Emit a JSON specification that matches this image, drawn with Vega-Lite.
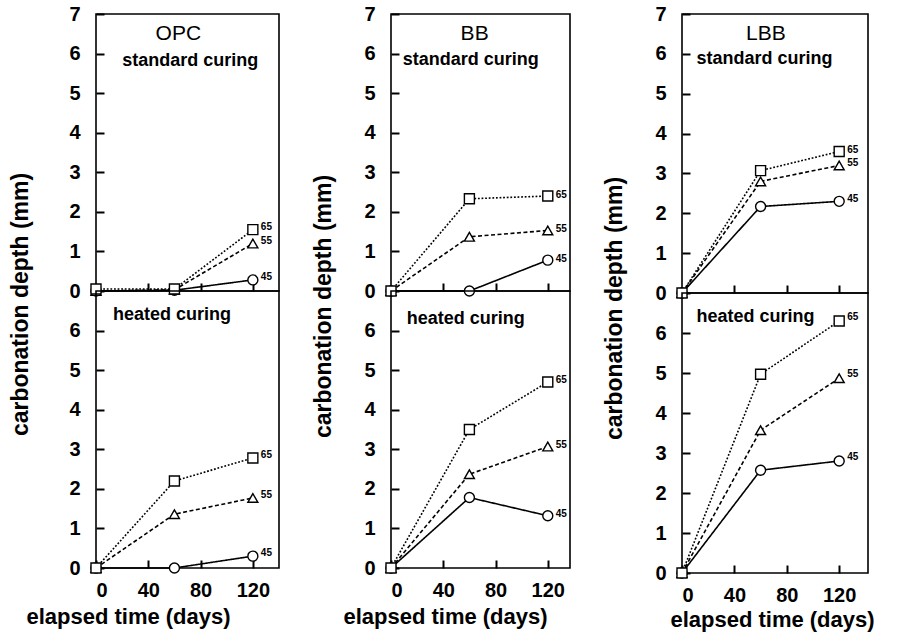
{
  "$schema": "https://vega.github.io/schema/vega-lite/v6.json",
  "background": "white",
  "padding": {"left": 9, "top": 3, "right": 2, "bottom": 2},
  "datasets": {
    "d": [
      {"cement": "OPC", "curing": "standard", "wc": "45", "days": 0, "depth": 0},
      {"cement": "OPC", "curing": "standard", "wc": "45", "days": 60, "depth": 0.02},
      {"cement": "OPC", "curing": "standard", "wc": "45", "days": 120, "depth": 0.28},
      {"cement": "OPC", "curing": "standard", "wc": "55", "days": 0, "depth": 0},
      {"cement": "OPC", "curing": "standard", "wc": "55", "days": 60, "depth": 0.03},
      {"cement": "OPC", "curing": "standard", "wc": "55", "days": 120, "depth": 1.2},
      {"cement": "OPC", "curing": "standard", "wc": "65", "days": 0, "depth": 0.05},
      {"cement": "OPC", "curing": "standard", "wc": "65", "days": 60, "depth": 0.05},
      {"cement": "OPC", "curing": "standard", "wc": "65", "days": 120, "depth": 1.55},
      {"cement": "OPC", "curing": "heated", "wc": "45", "days": 0, "depth": 0},
      {"cement": "OPC", "curing": "heated", "wc": "45", "days": 60, "depth": 0},
      {"cement": "OPC", "curing": "heated", "wc": "45", "days": 120, "depth": 0.3},
      {"cement": "OPC", "curing": "heated", "wc": "55", "days": 0, "depth": 0},
      {"cement": "OPC", "curing": "heated", "wc": "55", "days": 60, "depth": 1.36},
      {"cement": "OPC", "curing": "heated", "wc": "55", "days": 120, "depth": 1.77},
      {"cement": "OPC", "curing": "heated", "wc": "65", "days": 0, "depth": 0},
      {"cement": "OPC", "curing": "heated", "wc": "65", "days": 60, "depth": 2.2},
      {"cement": "OPC", "curing": "heated", "wc": "65", "days": 120, "depth": 2.78},
      {"cement": "BB", "curing": "standard", "wc": "45", "days": 0, "depth": 0},
      {"cement": "BB", "curing": "standard", "wc": "45", "days": 60, "depth": 0},
      {"cement": "BB", "curing": "standard", "wc": "45", "days": 120, "depth": 0.78},
      {"cement": "BB", "curing": "standard", "wc": "55", "days": 0, "depth": 0},
      {"cement": "BB", "curing": "standard", "wc": "55", "days": 60, "depth": 1.37},
      {"cement": "BB", "curing": "standard", "wc": "55", "days": 120, "depth": 1.53},
      {"cement": "BB", "curing": "standard", "wc": "65", "days": 0, "depth": 0},
      {"cement": "BB", "curing": "standard", "wc": "65", "days": 60, "depth": 2.33},
      {"cement": "BB", "curing": "standard", "wc": "65", "days": 120, "depth": 2.4},
      {"cement": "BB", "curing": "heated", "wc": "45", "days": 0, "depth": 0},
      {"cement": "BB", "curing": "heated", "wc": "45", "days": 60, "depth": 1.78},
      {"cement": "BB", "curing": "heated", "wc": "45", "days": 120, "depth": 1.32},
      {"cement": "BB", "curing": "heated", "wc": "55", "days": 0, "depth": 0},
      {"cement": "BB", "curing": "heated", "wc": "55", "days": 60, "depth": 2.37},
      {"cement": "BB", "curing": "heated", "wc": "55", "days": 120, "depth": 3.07},
      {"cement": "BB", "curing": "heated", "wc": "65", "days": 0, "depth": 0},
      {"cement": "BB", "curing": "heated", "wc": "65", "days": 60, "depth": 3.5},
      {"cement": "BB", "curing": "heated", "wc": "65", "days": 120, "depth": 4.7},
      {"cement": "LBB", "curing": "standard", "wc": "45", "days": 0, "depth": 0},
      {"cement": "LBB", "curing": "standard", "wc": "45", "days": 60, "depth": 2.17},
      {"cement": "LBB", "curing": "standard", "wc": "45", "days": 120, "depth": 2.3},
      {"cement": "LBB", "curing": "standard", "wc": "55", "days": 0, "depth": 0},
      {"cement": "LBB", "curing": "standard", "wc": "55", "days": 60, "depth": 2.8},
      {"cement": "LBB", "curing": "standard", "wc": "55", "days": 120, "depth": 3.2},
      {"cement": "LBB", "curing": "standard", "wc": "65", "days": 0, "depth": 0},
      {"cement": "LBB", "curing": "standard", "wc": "65", "days": 60, "depth": 3.07},
      {"cement": "LBB", "curing": "standard", "wc": "65", "days": 120, "depth": 3.55},
      {"cement": "LBB", "curing": "heated", "wc": "45", "days": 0, "depth": 0},
      {"cement": "LBB", "curing": "heated", "wc": "45", "days": 60, "depth": 2.57},
      {"cement": "LBB", "curing": "heated", "wc": "45", "days": 120, "depth": 2.8},
      {"cement": "LBB", "curing": "heated", "wc": "55", "days": 0, "depth": 0},
      {"cement": "LBB", "curing": "heated", "wc": "55", "days": 60, "depth": 3.57},
      {"cement": "LBB", "curing": "heated", "wc": "55", "days": 120, "depth": 4.87},
      {"cement": "LBB", "curing": "heated", "wc": "65", "days": 0, "depth": 0},
      {"cement": "LBB", "curing": "heated", "wc": "65", "days": 60, "depth": 4.97},
      {"cement": "LBB", "curing": "heated", "wc": "65", "days": 120, "depth": 6.3}
    ]
  },
  "config": {
    "font": "Liberation Sans",
    "view": {"stroke": "black", "strokeWidth": 1.6},
    "axis": {"labelFont": "Liberation Sans", "labelFontWeight": "bold", "labelFontSize": 20, "labelColor": "black", "labelOverlap": false, "labelBound": false, "ticks": true, "tickColor": "black", "tickSize": -8, "tickWidth": 2, "domain": false, "grid": false, "zindex": 1, "titleFont": "Liberation Sans", "titleFontSize": 23, "titleFontWeight": "bold", "titleColor": "black"}
  },
  "hconcat": [
    {
      "vconcat": [
        {
          "width": 183, "height": 277,
          "layer": [
            {"data": {"name": "d"}, "transform": [{"filter": "datum.cement == 'OPC' && datum.curing == 'standard'"}],
             "encoding": {
               "x": {"field": "days", "type": "quantitative", "scale": {"domain": [0, 140], "nice": false}, "axis": {"values": [40, 80, 120], "labels": false, "title": null}},
               "y": {"field": "depth", "type": "quantitative", "scale": {"domain": [0, 7], "nice": false}, "axis": {"values": [0, 1, 2, 3, 4, 5, 6, 7], "labelOverlap": false, "labelPadding": 24, "title": "carbonation depth (mm)", "titleY": 290, "titlePadding": 36}}
             },
             "layer": [
               {"mark": {"type": "line", "color": "black", "strokeWidth": 1.6},
                "encoding": {"detail": {"field": "wc"}, "strokeDash": {"field": "wc", "type": "nominal", "scale": {"domain": ["45", "55", "65"], "range": [[1, 0], [4, 2.5], [1.8, 1.8]]}, "legend": null}}},
               {"mark": {"type": "point", "filled": true, "fill": "white", "stroke": "black", "strokeWidth": 1.4, "size": 100, "opacity": 1},
                "encoding": {"shape": {"field": "wc", "type": "nominal", "scale": {"domain": ["45", "55", "65"], "range": ["circle", "triangle-up", "square"]}, "legend": null}}},
               {"transform": [{"filter": "datum.days == 120"}],
                "mark": {"type": "text", "align": "left", "dx": 8, "dy": -3, "fontSize": 10, "fontWeight": "bold", "color": "black"},
                "encoding": {"text": {"field": "wc"}}}
             ]},
            {"data": {"values": [{"label": "standard curing"}]},
             "mark": {"type": "text", "align": "left", "baseline": "middle", "fontSize": 18, "fontWeight": "bold", "color": "black"},
             "encoding": {
               "x": {"datum": 20, "type": "quantitative", "scale": {"domain": [0, 140], "nice": false}, "axis": {"values": [40, 80, 120], "labels": false, "title": null}},
               "y": {"datum": 5.82, "type": "quantitative", "scale": {"domain": [0, 7], "nice": false}, "axis": {"values": [0, 1, 2, 3, 4, 5, 6, 7], "labelOverlap": false, "labelPadding": 24, "title": "carbonation depth (mm)", "titleY": 290, "titlePadding": 36}},
               "text": {"field": "label"}
             }},
            {"data": {"values": [{"label": "OPC"}]},
             "mark": {"type": "text", "align": "center", "baseline": "middle", "fontSize": 21, "color": "black"},
             "encoding": {
               "x": {"datum": 63, "type": "quantitative", "scale": {"domain": [0, 140], "nice": false}, "axis": {"values": [40, 80, 120], "labels": false, "title": null}},
               "y": {"datum": 6.5, "type": "quantitative", "scale": {"domain": [0, 7], "nice": false}, "axis": {"values": [0, 1, 2, 3, 4, 5, 6, 7], "labelOverlap": false, "labelPadding": 24, "title": "carbonation depth (mm)", "titleY": 290, "titlePadding": 36}},
               "text": {"field": "label"}
             }}
          ]
        },
        {
          "width": 183, "height": 277,
          "layer": [
            {"data": {"name": "d"}, "transform": [{"filter": "datum.cement == 'OPC' && datum.curing == 'heated'"}],
             "encoding": {
               "x": {"field": "days", "type": "quantitative", "scale": {"domain": [0, 140], "nice": false}, "axis": {"values": [0, 40, 80, 120], "labelPadding": 20, "title": "elapsed time  (days)", "titlePadding": 6, "titleX": 32, "titleFontSize": 22}},
               "y": {"field": "depth", "type": "quantitative", "scale": {"domain": [0, 7], "nice": false}, "axis": {"values": [0, 1, 2, 3, 4, 5, 6], "labelOverlap": false, "labelPadding": 24, "title": null}}
             },
             "layer": [
               {"mark": {"type": "line", "color": "black", "strokeWidth": 1.6},
                "encoding": {"detail": {"field": "wc"}, "strokeDash": {"field": "wc", "type": "nominal", "scale": {"domain": ["45", "55", "65"], "range": [[1, 0], [4, 2.5], [1.8, 1.8]]}, "legend": null}}},
               {"mark": {"type": "point", "filled": true, "fill": "white", "stroke": "black", "strokeWidth": 1.4, "size": 100, "opacity": 1},
                "encoding": {"shape": {"field": "wc", "type": "nominal", "scale": {"domain": ["45", "55", "65"], "range": ["circle", "triangle-up", "square"]}, "legend": null}}},
               {"transform": [{"filter": "datum.days == 120"}],
                "mark": {"type": "text", "align": "left", "dx": 8, "dy": -3, "fontSize": 10, "fontWeight": "bold", "color": "black"},
                "encoding": {"text": {"field": "wc"}}}
             ]},
            {"data": {"values": [{"label": "heated curing"}]},
             "mark": {"type": "text", "align": "left", "baseline": "middle", "fontSize": 18, "fontWeight": "bold", "color": "black"},
             "encoding": {
               "x": {"datum": 13, "type": "quantitative", "scale": {"domain": [0, 140], "nice": false}, "axis": {"values": [0, 40, 80, 120], "labelPadding": 20, "title": "elapsed time  (days)", "titlePadding": 6, "titleX": 32, "titleFontSize": 22}},
               "y": {"datum": 6.4, "type": "quantitative", "scale": {"domain": [0, 7], "nice": false}, "axis": {"values": [0, 1, 2, 3, 4, 5, 6], "labelOverlap": false, "labelPadding": 24, "title": null}},
               "text": {"field": "label"}
             }}
          ]
        }
      ],
      "spacing": 0,
      "bounds": "flush"
    },
    {
      "vconcat": [
        {
          "width": 179, "height": 277,
          "layer": [
            {"data": {"name": "d"}, "transform": [{"filter": "datum.cement == 'BB' && datum.curing == 'standard'"}],
             "encoding": {
               "x": {"field": "days", "type": "quantitative", "scale": {"domain": [0, 137], "nice": false}, "axis": {"values": [40, 80, 120], "labels": false, "title": null}},
               "y": {"field": "depth", "type": "quantitative", "scale": {"domain": [0, 7], "nice": false}, "axis": {"values": [0, 1, 2, 3, 4, 5, 6, 7], "labelOverlap": false, "labelPadding": 24, "title": "carbonation depth (mm)", "titleY": 292, "titlePadding": 28}}
             },
             "layer": [
               {"mark": {"type": "line", "color": "black", "strokeWidth": 1.6},
                "encoding": {"detail": {"field": "wc"}, "strokeDash": {"field": "wc", "type": "nominal", "scale": {"domain": ["45", "55", "65"], "range": [[1, 0], [4, 2.5], [1.8, 1.8]]}, "legend": null}}},
               {"mark": {"type": "point", "filled": true, "fill": "white", "stroke": "black", "strokeWidth": 1.4, "size": 100, "opacity": 1},
                "encoding": {"shape": {"field": "wc", "type": "nominal", "scale": {"domain": ["45", "55", "65"], "range": ["circle", "triangle-up", "square"]}, "legend": null}}},
               {"transform": [{"filter": "datum.days == 120"}],
                "mark": {"type": "text", "align": "left", "dx": 8, "dy": -1, "fontSize": 10, "fontWeight": "bold", "color": "black"},
                "encoding": {"text": {"field": "wc"}}}
             ]},
            {"data": {"values": [{"label": "standard curing"}]},
             "mark": {"type": "text", "align": "left", "baseline": "middle", "fontSize": 18, "fontWeight": "bold", "color": "black"},
             "encoding": {
               "x": {"datum": 9, "type": "quantitative", "scale": {"domain": [0, 137], "nice": false}, "axis": {"values": [40, 80, 120], "labels": false, "title": null}},
               "y": {"datum": 5.85, "type": "quantitative", "scale": {"domain": [0, 7], "nice": false}, "axis": {"values": [0, 1, 2, 3, 4, 5, 6, 7], "labelOverlap": false, "labelPadding": 24, "title": "carbonation depth (mm)", "titleY": 292, "titlePadding": 28}},
               "text": {"field": "label"}
             }},
            {"data": {"values": [{"label": "BB"}]},
             "mark": {"type": "text", "align": "center", "baseline": "middle", "fontSize": 21, "color": "black"},
             "encoding": {
               "x": {"datum": 64, "type": "quantitative", "scale": {"domain": [0, 137], "nice": false}, "axis": {"values": [40, 80, 120], "labels": false, "title": null}},
               "y": {"datum": 6.5, "type": "quantitative", "scale": {"domain": [0, 7], "nice": false}, "axis": {"values": [0, 1, 2, 3, 4, 5, 6, 7], "labelOverlap": false, "labelPadding": 24, "title": "carbonation depth (mm)", "titleY": 292, "titlePadding": 28}},
               "text": {"field": "label"}
             }}
          ]
        },
        {
          "width": 179, "height": 277,
          "layer": [
            {"data": {"name": "d"}, "transform": [{"filter": "datum.cement == 'BB' && datum.curing == 'heated'"}],
             "encoding": {
               "x": {"field": "days", "type": "quantitative", "scale": {"domain": [0, 137], "nice": false}, "axis": {"values": [0, 40, 80, 120], "labelPadding": 20, "title": "elapsed time  (days)", "titlePadding": 6, "titleX": 54, "titleFontSize": 22}},
               "y": {"field": "depth", "type": "quantitative", "scale": {"domain": [0, 7], "nice": false}, "axis": {"values": [0, 1, 2, 3, 4, 5, 6], "labelOverlap": false, "labelPadding": 24, "title": null}}
             },
             "layer": [
               {"mark": {"type": "line", "color": "black", "strokeWidth": 1.6},
                "encoding": {"detail": {"field": "wc"}, "strokeDash": {"field": "wc", "type": "nominal", "scale": {"domain": ["45", "55", "65"], "range": [[1, 0], [4, 2.5], [1.8, 1.8]]}, "legend": null}}},
               {"mark": {"type": "point", "filled": true, "fill": "white", "stroke": "black", "strokeWidth": 1.4, "size": 100, "opacity": 1},
                "encoding": {"shape": {"field": "wc", "type": "nominal", "scale": {"domain": ["45", "55", "65"], "range": ["circle", "triangle-up", "square"]}, "legend": null}}},
               {"transform": [{"filter": "datum.days == 120"}],
                "mark": {"type": "text", "align": "left", "dx": 8, "dy": -2, "fontSize": 10, "fontWeight": "bold", "color": "black"},
                "encoding": {"text": {"field": "wc"}}}
             ]},
            {"data": {"values": [{"label": "heated curing"}]},
             "mark": {"type": "text", "align": "left", "baseline": "middle", "fontSize": 18, "fontWeight": "bold", "color": "black"},
             "encoding": {
               "x": {"datum": 12, "type": "quantitative", "scale": {"domain": [0, 137], "nice": false}, "axis": {"values": [0, 40, 80, 120], "labelPadding": 20, "title": "elapsed time  (days)", "titlePadding": 6, "titleX": 54, "titleFontSize": 22}},
               "y": {"datum": 6.3, "type": "quantitative", "scale": {"domain": [0, 7], "nice": false}, "axis": {"values": [0, 1, 2, 3, 4, 5, 6], "labelOverlap": false, "labelPadding": 24, "title": null}},
               "text": {"field": "label"}
             }}
          ]
        }
      ],
      "spacing": 0,
      "bounds": "flush"
    },
    {
      "vconcat": [
        {
          "width": 186, "height": 279,
          "layer": [
            {"data": {"name": "d"}, "transform": [{"filter": "datum.cement == 'LBB' && datum.curing == 'standard'"}],
             "encoding": {
               "x": {"field": "days", "type": "quantitative", "scale": {"domain": [0, 142], "nice": false}, "axis": {"values": [40, 80, 120], "labels": false, "title": null}},
               "y": {"field": "depth", "type": "quantitative", "scale": {"domain": [0, 7], "nice": false}, "axis": {"values": [0, 1, 2, 3, 4, 5, 6, 7], "labelOverlap": false, "labelPadding": 24, "title": "carbonation depth (mm)", "titleY": 294, "titlePadding": 28}}
             },
             "layer": [
               {"mark": {"type": "line", "color": "black", "strokeWidth": 1.6},
                "encoding": {"detail": {"field": "wc"}, "strokeDash": {"field": "wc", "type": "nominal", "scale": {"domain": ["45", "55", "65"], "range": [[1, 0], [4, 2.5], [1.8, 1.8]]}, "legend": null}}},
               {"mark": {"type": "point", "filled": true, "fill": "white", "stroke": "black", "strokeWidth": 1.4, "size": 100, "opacity": 1},
                "encoding": {"shape": {"field": "wc", "type": "nominal", "scale": {"domain": ["45", "55", "65"], "range": ["circle", "triangle-up", "square"]}, "legend": null}}},
               {"transform": [{"filter": "datum.days == 120"}],
                "mark": {"type": "text", "align": "left", "dx": 8, "dy": -2, "fontSize": 10, "fontWeight": "bold", "color": "black"},
                "encoding": {"text": {"field": "wc"}}}
             ]},
            {"data": {"values": [{"label": "standard curing"}]},
             "mark": {"type": "text", "align": "left", "baseline": "middle", "fontSize": 18, "fontWeight": "bold", "color": "black"},
             "encoding": {
               "x": {"datum": 11, "type": "quantitative", "scale": {"domain": [0, 142], "nice": false}, "axis": {"values": [40, 80, 120], "labels": false, "title": null}},
               "y": {"datum": 5.88, "type": "quantitative", "scale": {"domain": [0, 7], "nice": false}, "axis": {"values": [0, 1, 2, 3, 4, 5, 6, 7], "labelOverlap": false, "labelPadding": 24, "title": "carbonation depth (mm)", "titleY": 294, "titlePadding": 28}},
               "text": {"field": "label"}
             }},
            {"data": {"values": [{"label": "LBB"}]},
             "mark": {"type": "text", "align": "center", "baseline": "middle", "fontSize": 21, "color": "black"},
             "encoding": {
               "x": {"datum": 64, "type": "quantitative", "scale": {"domain": [0, 142], "nice": false}, "axis": {"values": [40, 80, 120], "labels": false, "title": null}},
               "y": {"datum": 6.5, "type": "quantitative", "scale": {"domain": [0, 7], "nice": false}, "axis": {"values": [0, 1, 2, 3, 4, 5, 6, 7], "labelOverlap": false, "labelPadding": 24, "title": "carbonation depth (mm)", "titleY": 294, "titlePadding": 28}},
               "text": {"field": "label"}
             }}
          ]
        },
        {
          "width": 186, "height": 280,
          "layer": [
            {"data": {"name": "d"}, "transform": [{"filter": "datum.cement == 'LBB' && datum.curing == 'heated'"}],
             "encoding": {
               "x": {"field": "days", "type": "quantitative", "scale": {"domain": [0, 142], "nice": false}, "axis": {"values": [0, 40, 80, 120], "labelPadding": 20, "title": "elapsed time  (days)", "titlePadding": 4, "titleX": 90, "titleFontSize": 22}},
               "y": {"field": "depth", "type": "quantitative", "scale": {"domain": [0, 7], "nice": false}, "axis": {"values": [0, 1, 2, 3, 4, 5, 6], "labelOverlap": false, "labelPadding": 24, "title": null}}
             },
             "layer": [
               {"mark": {"type": "line", "color": "black", "strokeWidth": 1.6},
                "encoding": {"detail": {"field": "wc"}, "strokeDash": {"field": "wc", "type": "nominal", "scale": {"domain": ["45", "55", "65"], "range": [[1, 0], [4, 2.5], [1.8, 1.8]]}, "legend": null}}},
               {"mark": {"type": "point", "filled": true, "fill": "white", "stroke": "black", "strokeWidth": 1.4, "size": 100, "opacity": 1},
                "encoding": {"shape": {"field": "wc", "type": "nominal", "scale": {"domain": ["45", "55", "65"], "range": ["circle", "triangle-up", "square"]}, "legend": null}}},
               {"transform": [{"filter": "datum.days == 120"}],
                "mark": {"type": "text", "align": "left", "dx": 8, "dy": -4, "fontSize": 10, "fontWeight": "bold", "color": "black"},
                "encoding": {"text": {"field": "wc"}}}
             ]},
            {"data": {"values": [{"label": "heated curing"}]},
             "mark": {"type": "text", "align": "left", "baseline": "middle", "fontSize": 18, "fontWeight": "bold", "color": "black"},
             "encoding": {
               "x": {"datum": 11, "type": "quantitative", "scale": {"domain": [0, 142], "nice": false}, "axis": {"values": [0, 40, 80, 120], "labelPadding": 20, "title": "elapsed time  (days)", "titlePadding": 4, "titleX": 90, "titleFontSize": 22}},
               "y": {"datum": 6.4, "type": "quantitative", "scale": {"domain": [0, 7], "nice": false}, "axis": {"values": [0, 1, 2, 3, 4, 5, 6], "labelOverlap": false, "labelPadding": 24, "title": null}},
               "text": {"field": "label"}
             }}
          ]
        }
      ],
      "spacing": 0,
      "bounds": "flush"
    }
  ],
  "spacing": 32
}
